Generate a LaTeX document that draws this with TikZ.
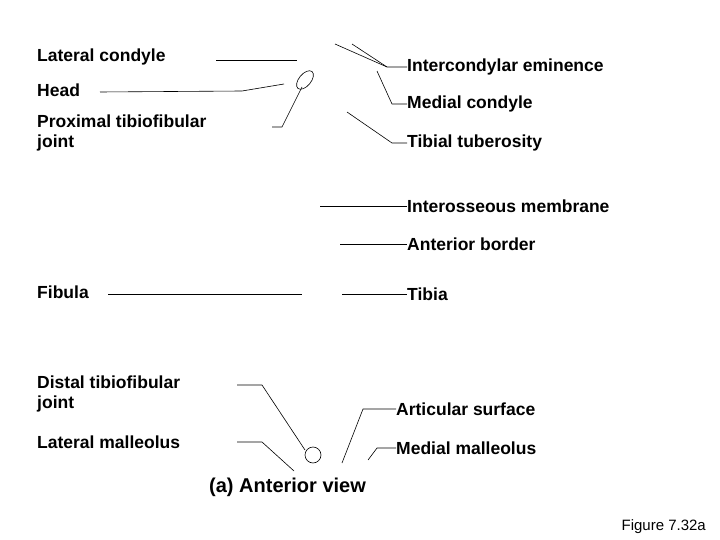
\documentclass[tikz,border=0pt]{standalone}
\usepackage{fontspec}
\setmainfont{Liberation Sans}
\usetikzlibrary{positioning,calc}
\begin{document}
\begin{tikzpicture}[x=1pt,y=-1pt,
	lbl/.style={anchor=west,inner sep=0pt,font=\fontsize{17.5}{20}\selectfont\bfseries,align=left},
	lead/.style={line width=0.6pt}]
		\useasboundingbox (0,0) rectangle (720,540);
		% left labels
		\node[lbl] (latc) at (37,57) {Lateral condyle};
		\node[lbl] (head) at (37,90) {Head};
		\node[lbl] (prox) at (37,133) {Proximal tibiofibular\\joint};
		\node[lbl] (fib) at (37,292) {Fibula};
		\node[lbl] (dist) at (37,394) {Distal tibiofibular\\joint};
		\node[lbl] (latm) at (37,442) {Lateral malleolus};
		% right labels
		\node[lbl] (ice) at (407,67) {Intercondylar eminence};
		\node[lbl] (medc) at (407,104) {Medial condyle};
		\node[lbl] (tibt) at (407,143) {Tibial tuberosity};
		\node[lbl] (ios) at (407,206) {Interosseous membrane};
		\node[lbl] (ant) at (407,244) {Anterior border};
		\node[lbl] (tib) at (407,294) {Tibia};
		\node[lbl] (art) at (396,409) {Articular surface};
		\node[lbl] (medm) at (396,448) {Medial malleolus};
		% small marks
		\draw[lead,rotate around={50:(305,80)}] (305,80) ellipse (11 and 6);
		\draw[lead] (313,455) circle (8);
		% leaders
		\draw[lead] (216,60) -- (297,60);
		\draw[lead] (100,92) -- (242,91) -- (284,84);
		\draw[lead] (272,127) -- (282,127) -- (302,87);
		\draw[lead] (335,44) -- (387,67) -- (ice.west);
		\draw[lead] (352,44) -- (387,67);
		\draw[lead] (377,71) -- (392,104) -- (medc.west);
		\draw[lead] (347,112) -- (392,143) -- (tibt.west);
		\draw[lead] (320,206) -- (ios.west);
		\draw[lead] (340,244) -- (ant.west);
		\draw[lead] (342,294) -- (tib.west);
		\draw[lead] (108,294) -- (302,294);
		\draw[lead] (237,385) -- (262,385) -- (305,450);
		\draw[lead] (237,442) -- (262,442) -- (294,471);
		\draw[lead] (342,463) -- (363,409) -- (art.west);
		\draw[lead] (368,460) -- (377,448) -- (medm.west);
		% caption
		\node[anchor=west,inner sep=0pt,font=\fontsize{20}{22}\selectfont\bfseries] (cap) at (209,487) {(a) Anterior view};
		\node[anchor=east,inner sep=0pt,font=\fontsize{15}{17}\selectfont] (fig) at (706,527) {Figure 7.32a};
	\end{tikzpicture}
\end{document}
